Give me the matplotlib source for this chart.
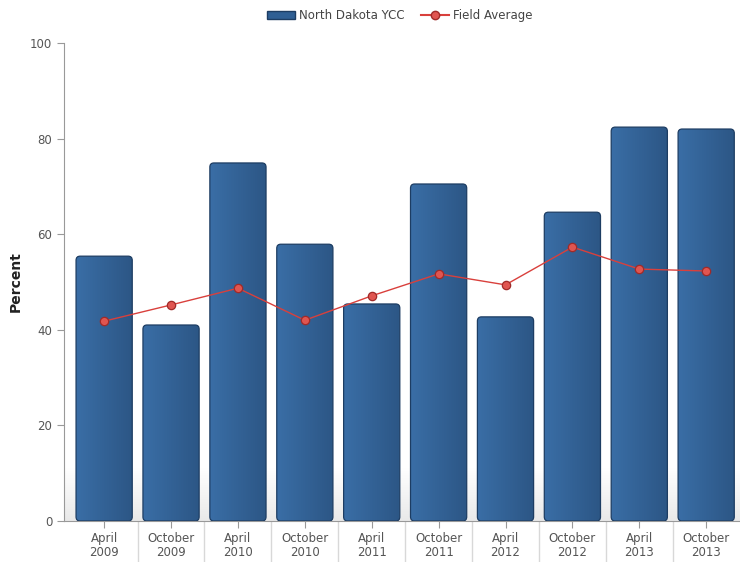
import numpy as np
import matplotlib.pyplot as plt
import matplotlib.transforms as mtransforms
from matplotlib.colors import LinearSegmentedColormap
from matplotlib.patches import FancyBboxPatch, Patch
from matplotlib.lines import Line2D

periods = ["April\n2009", "October\n2009", "April\n2010", "October\n2010", "April\n2011",
           "October\n2011", "April\n2012", "October\n2012", "April\n2013", "October\n2013"]
ycc_pct = [55.4, 41.0, 74.9, 57.9, 45.4, 70.5, 42.7, 64.6, 82.4, 82.0]
field_avg = [41.8, 45.2, 48.7, 42.0, 47.1, 51.7, 49.4, 57.3, 52.7, 52.3]

plt.rcParams['font.family'] = ['DejaVu Sans']

fig = plt.figure(figsize=(7.4, 5.62), dpi=100)
ax = fig.add_axes([0.0865, 0.073, 0.913, 0.8505])

x = np.arange(len(periods))
ax.set_xlim(-0.6, len(periods) - 0.5)
ax.set_ylim(0, 100)

# faint grey fade at the floor of the plot
fade = np.linspace(0, 1, 256).reshape(-1, 1)
ax.imshow(fade, extent=[0, 1, 0, 0.11], transform=ax.transAxes, aspect='auto',
          cmap=LinearSegmentedColormap.from_list('f', ['#e9e9e9', '#ffffff']),
          origin='lower', zorder=0)

bar_cmap = LinearSegmentedColormap.from_list('b', ['#3a6ea6', '#2c5685'])
grad = np.linspace(0, 1, 256).reshape(1, -1)
bars = ax.bar(x, ycc_pct, width=0.84, color='none', edgecolor='none', zorder=2)
for b in bars:
    x0, y0, w, h = b.get_x(), b.get_y(), b.get_width(), b.get_height()
    shape = FancyBboxPatch((x0, y0), w, h, boxstyle="round,pad=0,rounding_size=0.06",
                           mutation_aspect=14.5, facecolor='none', edgecolor='#1d3d63',
                           linewidth=0.9, zorder=3)
    ax.add_patch(shape)
    im = ax.imshow(grad, extent=[x0, x0 + w, y0, y0 + h], aspect='auto', cmap=bar_cmap, zorder=2)
    im.set_clip_path(shape)

ax.plot(x, field_avg, color='#d9403c', linewidth=1.0, marker='o', markersize=6,
        markerfacecolor='#e05550', markeredgecolor='#a02a28', markeredgewidth=0.9, zorder=4)

for side in ['top', 'right']:
    ax.spines[side].set_visible(False)
for side in ['left', 'bottom']:
    ax.spines[side].set_color('#999999')

ax.set_yticks(range(0, 101, 20))
ax.set_xticks(x)
ax.set_xticklabels(periods, linespacing=1.1)
ax.tick_params(axis='both', colors='#999999', labelcolor='#555555', labelsize=8.5, length=5)
ax.tick_params(axis='x', pad=3)
ax.set_ylabel('Percent', fontsize=10, fontweight='bold', color='#222222', labelpad=5)

# category separators below the axis
trans = mtransforms.blended_transform_factory(ax.transData, ax.transAxes)
ax.vlines(x[:-1] + 0.5, -0.09, 0, transform=trans, colors='#d8d8d8', linewidth=1, clip_on=False)

handles = [Patch(facecolor='#2f5f94', edgecolor='#1d3d63', label='North Dakota YCC'),
           Line2D([0], [0], color='#d9403c', marker='o', markersize=6, markerfacecolor='#e05550',
                  markeredgecolor='#a02a28', label='Field Average')]
fig.legend(handles=handles, loc='center', bbox_to_anchor=(0.54, 0.972), ncol=2, frameon=False,
           fontsize=8.5, handlelength=2.4, columnspacing=1.4, handletextpad=0.3)
for t in fig.legends[0].get_texts():
    t.set_color('#444444')

fig.savefig('out.png', dpi=100)
